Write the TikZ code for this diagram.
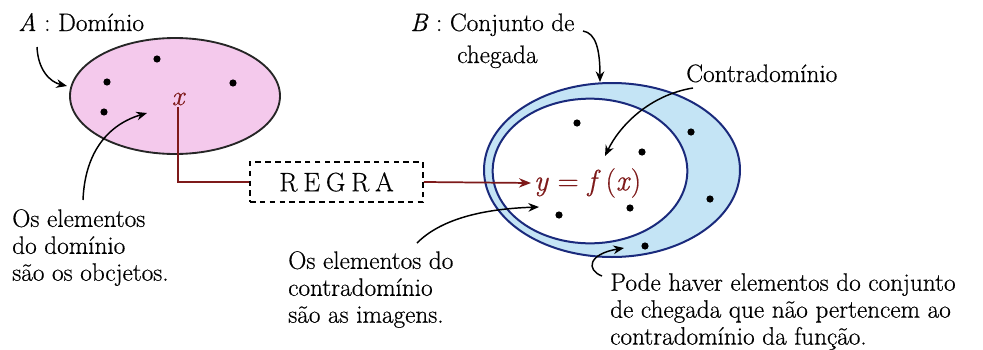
\documentclass[tikz,border=0pt]{standalone}
\usepackage{fontspec}
\setmainfont{Latin Modern Roman}[FakeBold=0.5]
\usetikzlibrary{shapes.geometric,arrows.meta}
\definecolor{pinkfill}{HTML}{F4C9EC}
\definecolor{bluefill}{HTML}{C4E4F5}
\definecolor{navy}{HTML}{1A2A7C}
\definecolor{maroon}{HTML}{7E1A1A}
\definecolor{tipred}{HTML}{E3232A}
\tikzset{
  lbl/.style={inner sep=0pt, font=\fontsize{18.9pt}{20.2pt}\selectfont, align=left},
  setA/.style={ellipse, draw=black!85, line width=1.4pt, fill=pinkfill, inner sep=0pt},
  setB/.style={ellipse, draw=navy, line width=1.5pt, inner sep=0pt},
  pt/.style={circle, fill=black, inner sep=0pt, minimum size=5.4pt},
  callout/.style={line width=1.1pt, -{Stealth[length=8pt,width=6.5pt]}},
  rule/.style={line width=1.3pt, draw=maroon},
  rulebox/.style={draw=black, dashed, dash pattern=on 4.2pt off 3.2pt, line width=1.3pt,
     minimum width=129.75pt, minimum height=30pt, inner sep=0pt,
     font=\fontsize{20pt}{22pt}\selectfont\addfontfeature{LetterSpace=22}}
}
\begin{document}
\begin{tikzpicture}[x=0.75pt,y=-0.75pt]
\path[use as bounding box] (0,0) rectangle (983,350);

% Set A
\node[setA, minimum width=157.5pt, minimum height=87pt] (A) at (175,96) {};
\node[pt] (a1) at (157,59) {};
\node[pt] (a2) at (107,82) {};
\node[pt] (a3) at (233,83) {};
\node[pt] (a4) at (104,112) {};
\node[inner sep=1pt, text=maroon, font=\fontsize{21pt}{22pt}\selectfont\itshape] (xl) at (178,99) {x};

% Set B
\node[setB, fill=bluefill, minimum width=192pt, minimum height=130.5pt] (B) at (612,170) {};
\node[setB, fill=white, minimum width=146pt, minimum height=108.5pt] (C) at (590,171) {};
\node[pt] (b1) at (577,123) {};
\node[pt] (b2) at (642,152) {};
\node[pt] (b3) at (559,215) {};
\node[pt] (b4) at (630,208) {};
\node[pt] (b5) at (691,132) {};
\node[pt] (b6) at (710,199) {};
\node[pt] (b7) at (645,246) {};

% Rule box and image
\node[rulebox] (regra) at (336.5,182) {REGRA};
\node[anchor=west, inner sep=2pt, text=maroon, font=\fontsize{22pt}{24pt}\selectfont] (yf) at (531,183) {\textit{y} = \textit{f}\,(\textit{x})};
\draw[rule] (xl.south) |- (regra.west);
\draw[rule, -{Stealth[length=9pt,width=7pt,fill=tipred]}] (regra.east) -- (yf.west);

% Labels
\node[lbl, anchor=base west] (Alab) at (18,31) {\textit{A} : Domínio};
\node[lbl, anchor=base west] (Blab) at (410,31) {\textit{B} : Conjunto de};
\node[lbl, anchor=base west] (Blab2) at (457,63) {chegada};
\node[lbl, anchor=base west] (Clab) at (686,82) {Contradomínio};
\node[lbl, anchor=north west] (domtxt) at (12,209) {Os elementos\\do domínio\\são os obcjetos.};
\node[lbl, anchor=north west] (imgtxt) at (288,251) {Os elementos do\\contradomínio\\são as imagens.};
\node[lbl, anchor=north west] (podetxt) at (610,273) {Pode haver elementos do conjunto\\de chegada que não pertencem ao\\contradomínio da função.};

% Callout arrows
\coordinate (sA) at (37,47);
\coordinate (eA) at (67,86);
\draw[callout] (sA) .. controls (38,70) and (50,82) .. (eA);
\coordinate (sD) at (83,200);
\coordinate (eD) at (147,113);
\draw[callout] (sD) .. controls (85,150) and (110,124) .. (eD);
\coordinate (sB) at (583,31);
\coordinate (eB) at (600,82);
\draw[callout] (sB) .. controls (596,33) and (600,50) .. (eB);
\coordinate (sC) at (693,88);
\coordinate (eC) at (605,156);
\draw[callout] (sC) .. controls (650,95) and (620,125) .. (eC);
\coordinate (sI) at (417,243);
\coordinate (eI) at (539,207);
\draw[callout] (sI) .. controls (440,220) and (480,209) .. (eI);
\coordinate (sP) at (602,276);
\coordinate (eP) at (624,248);
\draw[callout] (sP) .. controls (586,270) and (588,254) .. (eP);
\end{tikzpicture}
\end{document}
